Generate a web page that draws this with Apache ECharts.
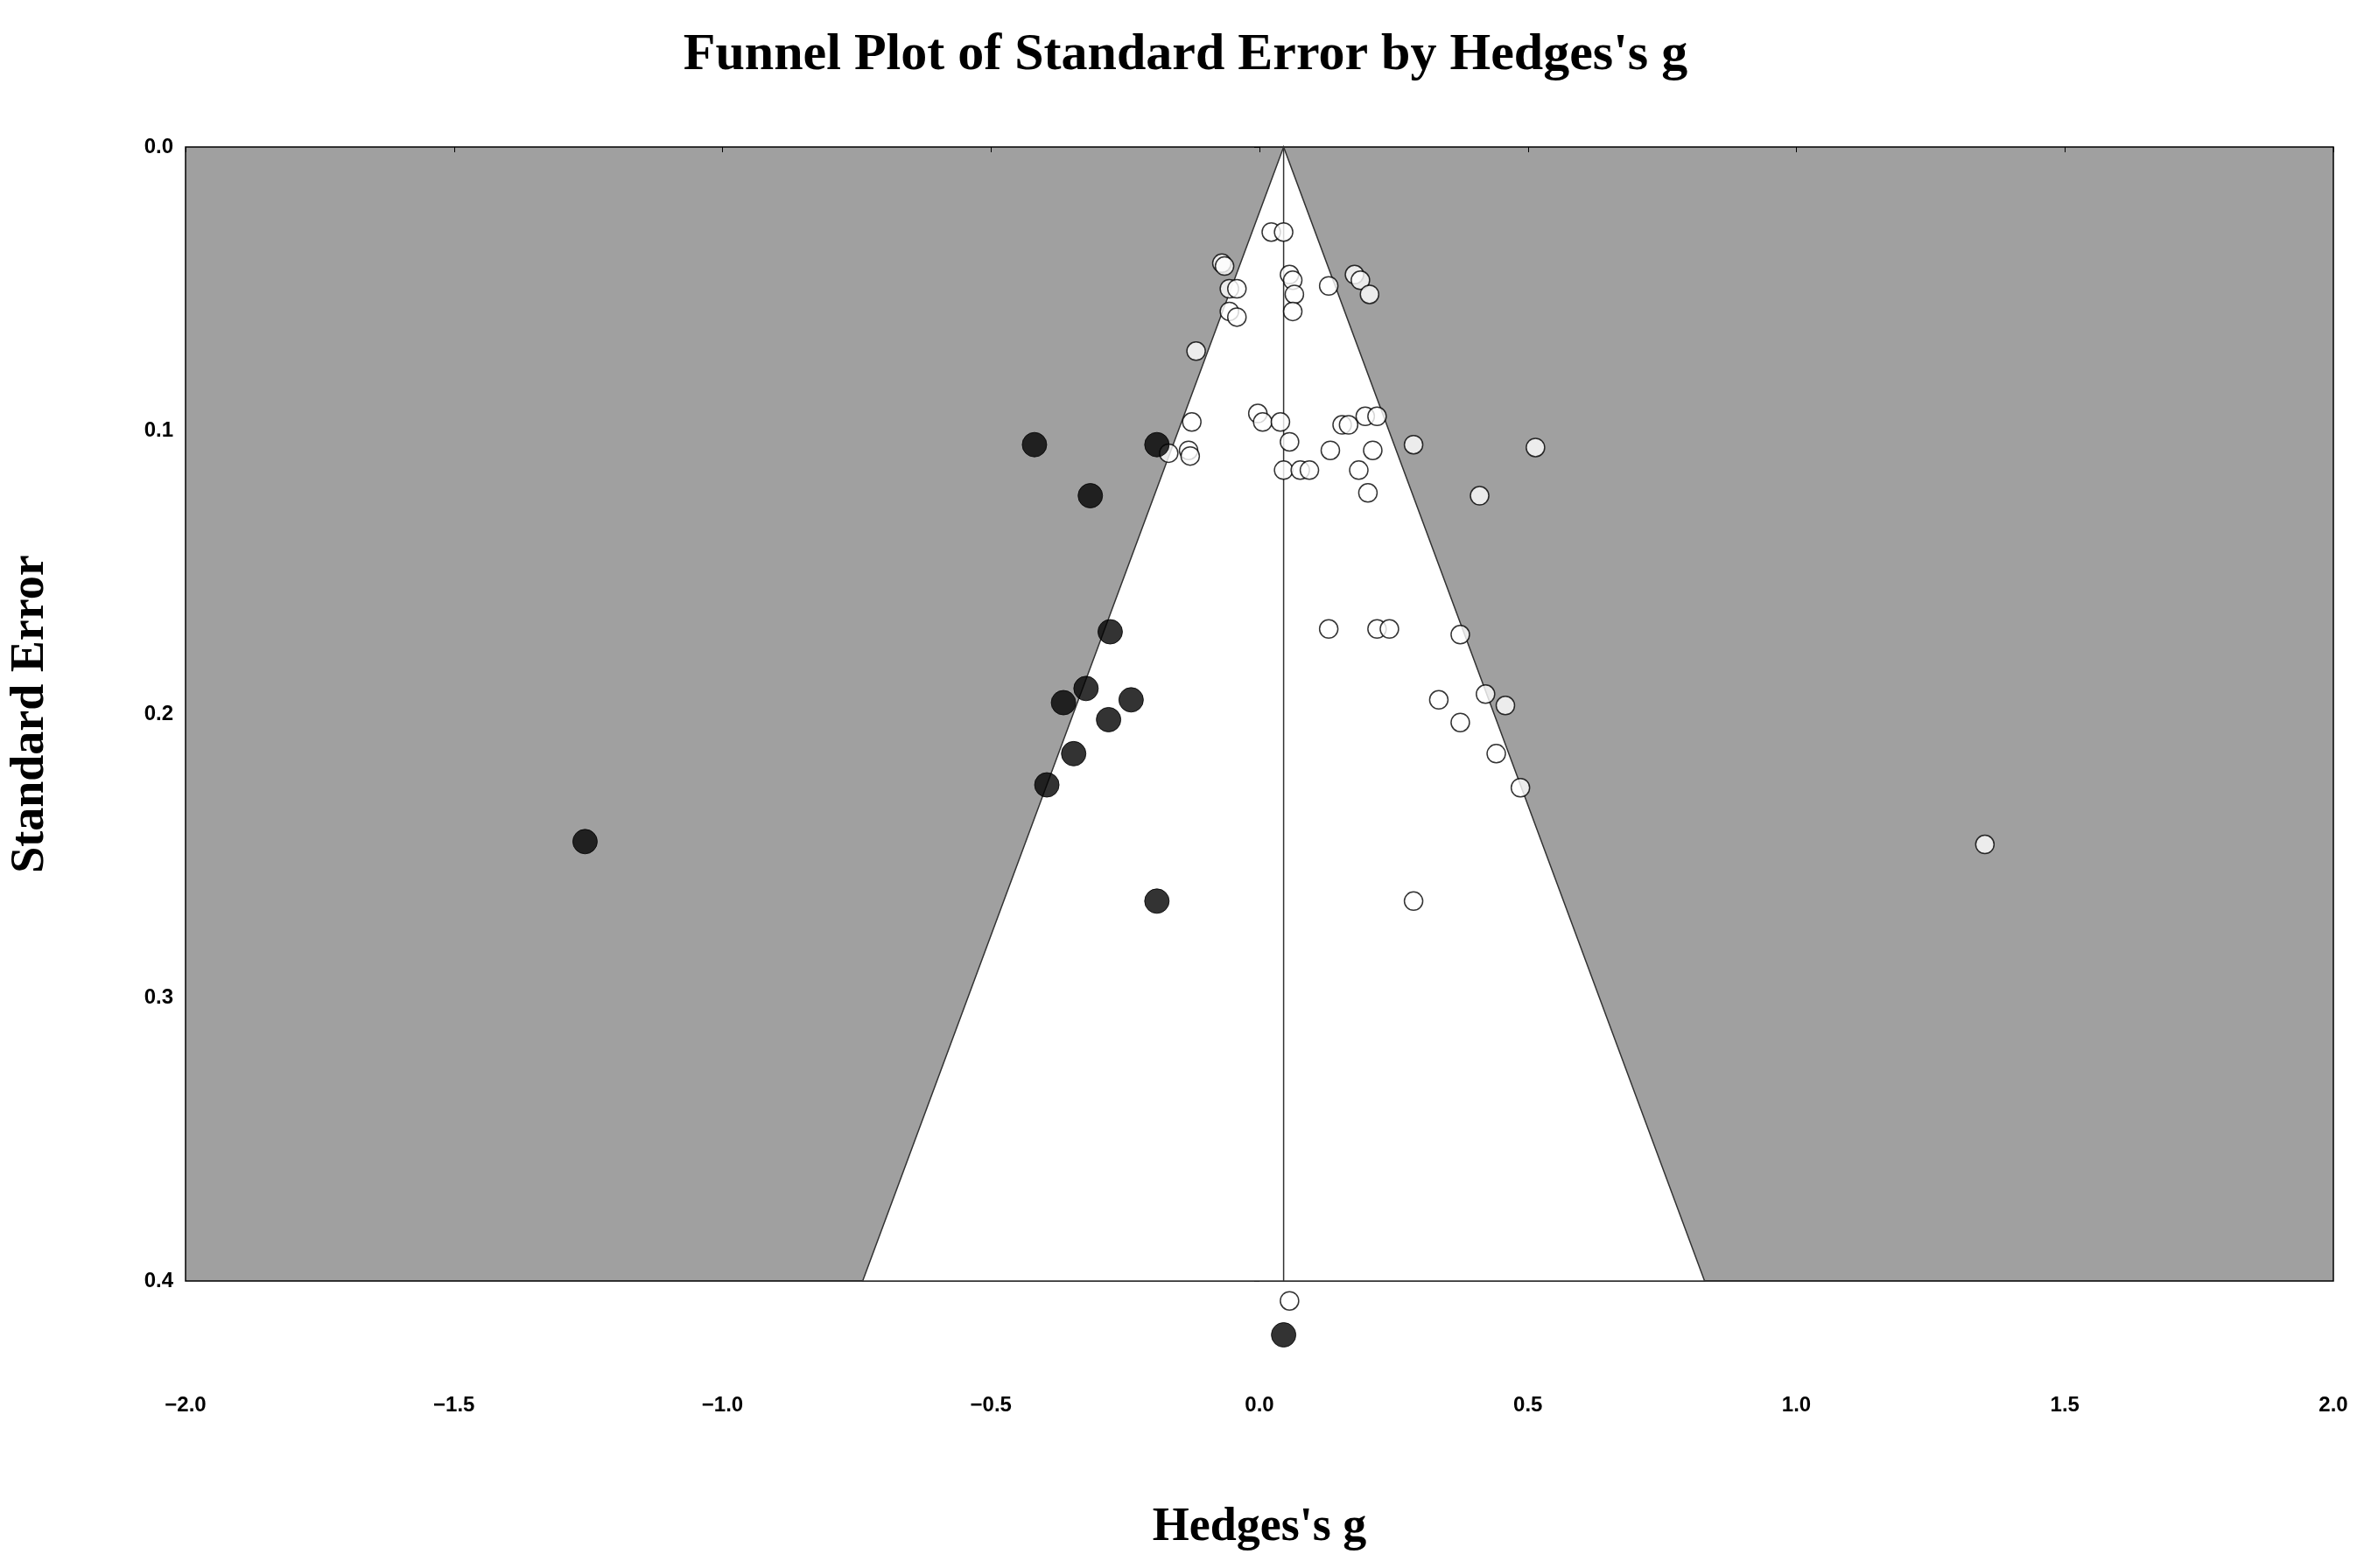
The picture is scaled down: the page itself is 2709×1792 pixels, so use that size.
<!DOCTYPE html>
<html>
<head>
<meta charset="utf-8">
<script src="https://cdn.jsdelivr.net/npm/echarts@6/dist/echarts.min.js"></script>
<style>html,body{margin:0;padding:0;background:#fff}#chart{width:2709px;height:1792px}</style>
</head>
<body>
<div id="chart"></div>
<script>
// observed studies (open circles): [Hedges's g, standard error]
var observed = [
  [0.022,0.030],[0.045,0.030],[-0.070,0.041],[-0.065,0.042],[0.056,0.045],[0.062,0.047],
  [0.177,0.045],[0.188,0.047],[0.129,0.049],[0.205,0.052],[-0.056,0.050],[-0.042,0.050],
  [0.065,0.052],[-0.056,0.058],[-0.042,0.060],[0.062,0.058],[-0.118,0.072],[-0.003,0.094],
  [0.006,0.097],[0.039,0.097],[-0.126,0.097],[0.154,0.098],[0.166,0.098],[0.197,0.095],
  [0.219,0.095],[0.056,0.104],[0.287,0.105],[0.514,0.106],[-0.169,0.108],[-0.132,0.107],
  [-0.129,0.109],[0.132,0.107],[0.211,0.107],[0.045,0.114],[0.076,0.114],[0.093,0.114],
  [0.185,0.114],[0.202,0.122],[0.410,0.123],[0.129,0.170],[0.219,0.170],[0.242,0.170],
  [0.374,0.172],[0.334,0.195],[0.421,0.193],[0.458,0.197],[0.374,0.203],[0.441,0.214],
  [0.486,0.226],[1.351,0.246],[0.287,0.266],[0.056,0.407]
];
// imputed studies (filled circles)
var imputed = [
  [-0.419,0.105],[-0.191,0.105],[-0.315,0.123],[-0.278,0.171],[-0.365,0.196],[-0.323,0.191],
  [-0.239,0.195],[-0.281,0.202],[-0.346,0.214],[-0.396,0.225],[-1.256,0.245],[-0.191,0.266],
  [0.045,0.419]
];
// funnel triangle and centre line
var funnel = [[0.045,0],[-0.739,0.4],[0.829,0.4]];
var centreLine = [[0.045,0],[0.045,0.4]];
var xTicks = [-2.0,-1.5,-1.0,-0.5,0.0,0.5,1.0,1.5,2.0];

var chart = echarts.init(document.getElementById('chart'));
var lbl = {fontFamily:'Liberation Sans',fontWeight:'bold',fontSize:24,color:'#000'};
chart.setOption({
  animation:false,
  title:{text:"Funnel Plot of Standard Error by Hedges's g",left:'center',top:28,
    textStyle:{fontFamily:'Liberation Serif',fontWeight:'bold',fontSize:60,color:'#000'}},
  grid:{left:206,right:43,top:168,bottom:328,backgroundColor:'#a0a0a0',show:true,borderColor:'#000',borderWidth:1.5},
  xAxis:{type:'value',min:-2,max:2,interval:0.5,
    name:"Hedges's g",nameLocation:'middle',nameGap:255,
    nameTextStyle:{fontFamily:'Liberation Serif',fontWeight:'bold',fontSize:54,color:'#000'},
    axisLine:{show:false},axisTick:{show:true,length:6,lineStyle:{color:'#000'}},splitLine:{show:false},
    axisLabel:Object.assign({margin:130,formatter:function(v){return v.toFixed(1).replace('-','\u2212');}},lbl)},
  yAxis:{type:'value',inverse:true,min:0,max:0.4,interval:0.1,
    name:'Standard Error',nameLocation:'middle',nameGap:150,
    nameTextStyle:{fontFamily:'Liberation Serif',fontWeight:'bold',fontSize:54,color:'#000'},
    axisLine:{show:false},axisTick:{show:true,length:6,lineStyle:{color:'#000'}},splitLine:{show:false},
    axisLabel:Object.assign({margin:14,formatter:function(v){return v.toFixed(1);}},lbl)},
  series:[
    {type:'custom',silent:true,z:1,data:[0],
      renderItem:function(params,api){
        var pts = funnel.map(function(p){return api.coord(p);});
        return {type:'polygon',shape:{points:pts},style:{fill:'#fff',stroke:'#333',lineWidth:1.5}};
      }},
    {type:'line',data:centreLine,symbol:'none',z:2,lineStyle:{color:'#333',width:1.5}},
    {type:'scatter',data:observed,symbolSize:21,clip:false,z:3,
      itemStyle:{color:'#fff',borderColor:'#000',borderWidth:1.5}},
    {type:'scatter',data:imputed,symbolSize:28,clip:false,z:4,
      itemStyle:{color:'#000',borderColor:'#000',borderWidth:1}}
  ]
});
</script>
</body>
</html>
